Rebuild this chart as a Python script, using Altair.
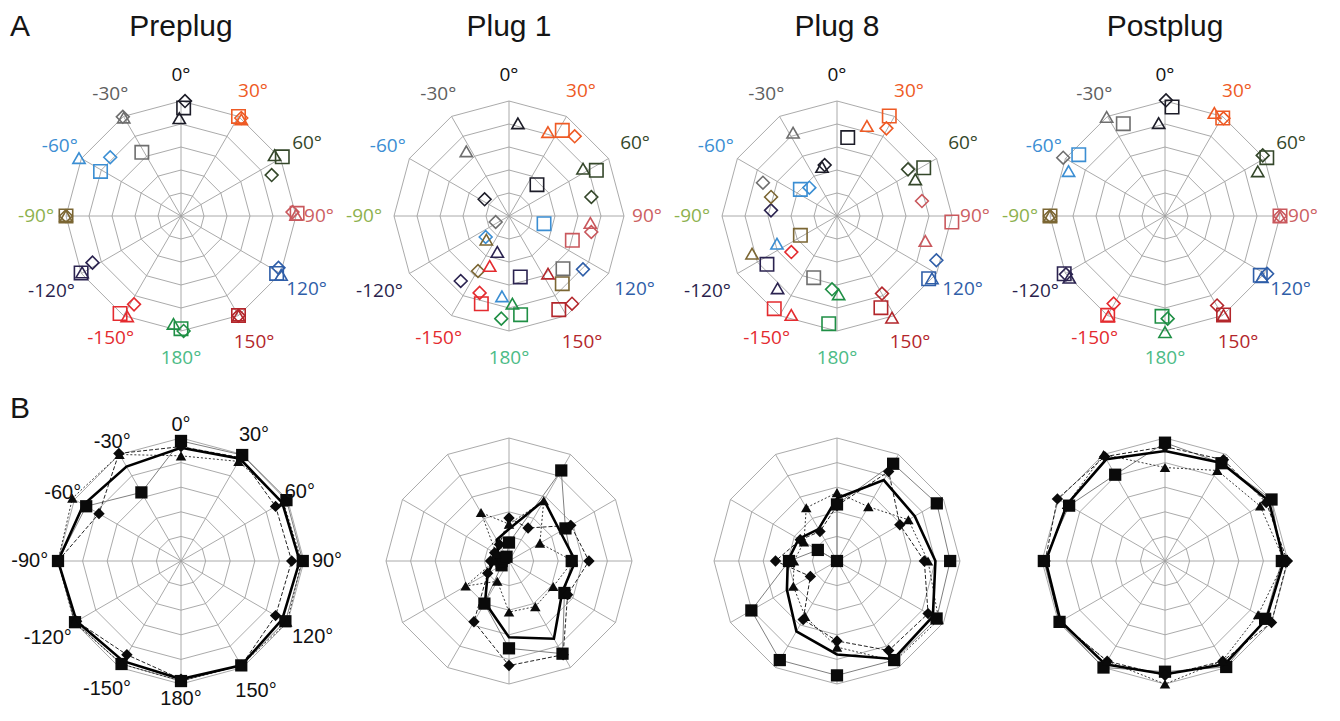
import altair as alt
import pandas as pd

# ---------------------------------------------------------------- data
PANELS = ["Preplug", "Plug 1", "Plug 8", "Postplug"]
DIRECTIONS = [0, 30, 60, 90, 120, 150, 180, -150, -120, -90, -60, -30]
DIR_LABELS = [f"{d}°" for d in DIRECTIONS]
SHAPES = ["square", "diamond", "triangle"]
RINGS = [0.2, 0.4, 0.6, 0.8, 1.0]

MARKER_COLORS = ["#1c1c28", "#ee5a24", "#34472a", "#c9585d", "#2f5ea8", "#b3262b",
                 "#1f8f45", "#e42b2f", "#2b2350", "#7b6633", "#3b8ed3", "#6e6e6e"]
LABEL_COLORS = ["#111111", "#ee5a24", "#34472a", "#cc6062", "#2f5ea8", "#b3262b",
                "#4cbb86", "#e42b2f", "#2a1f4d", "#8db14e", "#3b8ed3", "#5e5e5e"]

# Row A: (perceived angle in deg, radius) per target direction, order = DIRECTIONS
PREPLUG_SQUARE = [(1.4, .94), (30, 1.0), (59.7, 1.02), (88.7, 1.01), (121, .97), (150, 1.0),
                  (180, .98), (-148, 1.0), (-119.7, 1.0), (-90, 1.0), (-61, .80), (-31.6, .65)]
PREPLUG_DIAMOND = [(2, 1.0), (31.6, 1.0), (65.7, .865), (88, .97), (118, .96), (150, 1.0),
                   (178.7, 1.0), (-152, .87), (-117.8, .87), (-90, 1.0), (-50.3, .80), (-30.4, 1.0)]
PREPLUG_TRIANGLE = [(-1, .85), (32, .99), (57, .97), (89.5, 1.0), (120.5, 1.01), (150, 1.0),
                    (184, .94), (-151.8, .99), (-119.7, .99), (-90, 1.0), (-60.4, 1.02), (-30.2, .99)]

PLUG1_SQUARE = [(41.8, .365), (31.9, .877), (62.4, .857), (111, .59), None, (152, .922),
                (173.3, .864), (-162.5, .80), (169.5, .539), (141.8, .749), (102.4, .312), (134.3, .656)]
PLUG1_DIAMOND = [(-55.6, .257), (39.5, .898), (77, .735), (101, .729), (125.8, .793), (144.3, .939),
                 (-175.7, .895), (-159.1, .716), (-143.4, .704), (-150.6, .549), (-132, .273), (-114.2, .127)]
PLUG1_TRIANGLE = [(5.5, .81), (24.9, .805), (57.4, .764), (94.9, .71), None, (145.9, .605),
                  (177.8, .763), (-158.9, .466), (-162, .329), (-136.2, .285), (-175, .701), (-33.4, .674)]

PLUG8_SQUARE = [(7.8, .688), (27.6, .981), (60.9, .863), (93, 1.0), (124.4, .966), (154.4, .884),
                (-175.6, .939), (-145.9, .973), (-124.6, .74), (-117.8, .36), (-54, .394), (-159.3, .573)]
PLUG8_DIAMOND = [(-13.6, .456), (29.4, .875), (56.7, .739), (80, .75), (114, .946), (149.9, .78),
                 (-176.1, .639), (-128.3, .506), (-85.1, .576), (-73.9, .597), (-44.3, .344), (-65.8, .706)]
PLUG8_TRIANGLE = [(-17, .446), (18.4, .825), (64.9, .752), (105.8, .798), (123.3, .988), (151.6, 1.005),
                  (178.8, .681), (-155.2, .948), (-140.6, .814), (-113.9, .808), (-114.8, .575), (-27.8, .819)]

POSTPLUG_SQUARE = [(3.7, .95), (30.5, .989), (60.2, 1.02), (90, 1.0), (121.9, .976), (149.4, 1.0),
                   (-178.3, .873), (-150, .997), (-119.8, 1.01), (-90, 1.0), (-54.6, .92), (-24.3, .881)]
POSTPLUG_DIAMOND = [(0.5, 1.006), (30.9, .99), (58.2, 1.0), (90, 1.0), (119.5, 1.02), (149.8, .90),
                    (178.5, .893), (-149.6, .883), (-120.5, 1.0), (-90, 1.0), None, (-60.2, 1.02)]
POSTPLUG_TRIANGLE = [(-3.9, .81), (25.6, .993), (64.3, .895), (90.5, 1.0), (122.2, .996), (149.4, 1.0),
                     (180, 1.01), (-150.5, 1.0), (-122.8, .99), (-90, 1.0), (-65, .925), (-30.5, 1.0)]

# Row B: response radius per direction, order = DIRECTIONS
B_PREPLUG_SQUARE = [.976, .995, .99, .99, .98, .98, .976, .967, .995, 1.0, .89, .644]
B_PREPLUG_DIAMOND = [.93, .97, .888, .90, .888, .98, .96, .88, .98, 1.0, .77, 1.01]
B_PREPLUG_TRIANGLE = [.855, .935, .96, .98, .997, .98, .976, .967, 1.0, 1.0, 1.02, 1.0]
B_PREPLUG_MEAN = [.92, .96, .95, .965, .95, .98, .96, .94, .98, 1.0, .916, .886]

B_PLUG1_SQUARE = [.15, .85, .53, .51, .52, .87, .71, .40, .07, .06, .05, .04]
B_PLUG1_DIAMOND = [.35, .31, .58, .65, .55, .88, .85, .57, .20, .15, .135, .155]
B_PLUG1_TRIANGLE = [.30, .565, .29, .52, .415, .428, .415, .19, .407, .12, .12, .455]
B_PLUG1_MEAN = [.26, .57, .48, .54, .50, .73, .62, .39, .20, .12, .10, .20]

B_PLUG8_SQUARE = [.46, .913, .937, .92, .935, .93, .93, .93, .804, .39, .18, 0.0]
B_PLUG8_DIAMOND = [.45, .84, .59, .71, .855, .84, .65, .55, .25, .50, .345, .277]
B_PLUG8_TRIANGLE = [.556, .51, .67, .74, .955, .94, .70, .52, .41, .35, .31, .50]
B_PLUG8_MEAN = [.51, .76, .73, .80, .90, .92, .76, .66, .47, .40, .36, .30]

B_POSTPLUG_SQUARE = [.962, .918, 1.0, .95, .94, .995, .90, 1.0, .99, .985, .90, .81]
B_POSTPLUG_DIAMOND = [.93, .95, .95, .995, 1.0, .94, .93, .94, .99, .975, 1.01, .98]
B_POSTPLUG_TRIANGLE = [.76, .85, .893, .97, .874, .935, 1.0, .94, .99, .975, .92, 1.0]
B_POSTPLUG_MEAN = [.894, .92, .975, .967, .95, .97, .92, .97, .98, .97, .92, .955]

A_SERIES = {
    "Preplug": (PREPLUG_SQUARE, PREPLUG_DIAMOND, PREPLUG_TRIANGLE),
    "Plug 1": (PLUG1_SQUARE, PLUG1_DIAMOND, PLUG1_TRIANGLE),
    "Plug 8": (PLUG8_SQUARE, PLUG8_DIAMOND, PLUG8_TRIANGLE),
    "Postplug": (POSTPLUG_SQUARE, POSTPLUG_DIAMOND, POSTPLUG_TRIANGLE),
}
B_SERIES = {
    "Preplug": (B_PREPLUG_SQUARE, B_PREPLUG_DIAMOND, B_PREPLUG_TRIANGLE, B_PREPLUG_MEAN),
    "Plug 1": (B_PLUG1_SQUARE, B_PLUG1_DIAMOND, B_PLUG1_TRIANGLE, B_PLUG1_MEAN),
    "Plug 8": (B_PLUG8_SQUARE, B_PLUG8_DIAMOND, B_PLUG8_TRIANGLE, B_PLUG8_MEAN),
    "Postplug": (B_POSTPLUG_SQUARE, B_POSTPLUG_DIAMOND, B_POSTPLUG_TRIANGLE, B_POSTPLUG_MEAN),
}

# ---------------------------------------------------------------- layout / style
PANEL_W = 328
R_A, R_B = 115.0, 123.0          # px per unit radius
H_A, CY_A = 378, 206             # panel height, centre offset from panel top
H_B, CY_B = 323, 173
XH_A, XH_B = PANEL_W / 2 / R_A, PANEL_W / 2 / R_B
YDOM_A = [-(H_A - CY_A) / R_A, CY_A / R_A]
YDOM_B = [-(H_B - CY_B) / R_B, CY_B / R_B]
# label distance from centre (in ring units), per direction label
LABEL_POS_A = [1.226, 1.252, 1.266, 1.20, 1.261, 1.27, 1.235, 1.223, 1.30, 1.26, 1.217, 1.23]
LABEL_POS_B = [1.106, 1.187, 1.115, 1.187, 1.236, 1.22, 1.12, 1.203, 1.25, 1.23, 1.11, 1.118]
GRID_COLOR = "#a0a0a0"

XPOS = "datum.r * sin(datum.ang * PI / 180)"
YPOS = "datum.r * cos(datum.ang * PI / 180)"


def xy(xh, ydom, xf="x", yf="y"):
    sx = alt.Scale(domain=[-xh, xh], nice=False, zero=False)
    sy = alt.Scale(domain=ydom, nice=False, zero=False)
    return (alt.X(f"{xf}:Q", scale=sx, axis=None), alt.Y(f"{yf}:Q", scale=sy, axis=None))


ring_df = pd.DataFrame([{"ring": rr, "k": k, "ang": k * 30, "r": rr}
                        for rr in RINGS for k in range(12)])
spoke_df = pd.DataFrame({"ang": [k * 30 for k in range(12)], "r": [1.0] * 12})


def grid(xh, ydom):
    X, Y = xy(xh, ydom)
    X0, Y0 = xy(xh, ydom, "x0", "y0")
    rings = alt.Chart(ring_df).mark_line(
        interpolate="linear-closed", color=GRID_COLOR, strokeWidth=0.9
    ).transform_calculate(x=XPOS, y=YPOS).encode(
        x=X, y=Y, detail="ring:N", order="k:Q")
    spokes = alt.Chart(spoke_df).mark_rule(color=GRID_COLOR, strokeWidth=0.9).transform_calculate(
        x=XPOS, y=YPOS, x0="0", y0="0").encode(x=X0, y=Y0, x2="x:Q", y2="y:Q")
    return [rings, spokes]


a_rows = []
for panel, arrays in A_SERIES.items():
    for shape, arr in zip(SHAPES, arrays):
        for lab, v in zip(DIR_LABELS, arr):
            if v is None:
                continue
            a_rows.append({"panel": panel, "shape": shape, "dir": lab, "ang": v[0], "r": v[1]})
a_df = pd.DataFrame(a_rows)

b_rows = []
for panel, arrays in B_SERIES.items():
    for series, arr in zip(SHAPES + ["mean"], arrays):
        for i, (d, v) in enumerate(zip(DIRECTIONS, arr)):
            b_rows.append({"panel": panel, "series": series, "idx": i, "ang": d, "r": v})
b_df = pd.DataFrame(b_rows)

labA_df = pd.DataFrame({"label": DIR_LABELS, "ang": DIRECTIONS, "r": LABEL_POS_A,
                        "col": LABEL_COLORS})
labB_df = pd.DataFrame({"label": DIR_LABELS, "ang": DIRECTIONS, "r": LABEL_POS_B})


def text_at(t, x, y, size, align="center"):
    return alt.Chart(pd.DataFrame({"t": [t]})).mark_text(
        align=align, baseline="alphabetic", fontSize=size, font="Liberation Sans",
        color="#151515").encode(x=alt.value(x), y=alt.value(y), text="t:N")


def panel_a(i, name):
    X, Y = xy(XH_A, YDOM_A)
    layers = grid(XH_A, YDOM_A)
    layers.append(alt.Chart(labA_df).mark_text(font="Open Sans", fontSize=19).transform_calculate(
        x=XPOS, y=YPOS).encode(x=X, y=Y, text="label:N", color=alt.Color("col:N", scale=None)))
    layers.append(alt.Chart(a_df[a_df.panel == name]).mark_point(
        filled=False, strokeWidth=1.6, opacity=1).transform_calculate(x=XPOS, y=YPOS).encode(
        x=X, y=Y,
        shape=alt.Shape("shape:N", scale=alt.Scale(domain=SHAPES, range=["square", "diamond", "triangle-up"]), legend=None),
        size=alt.Size("shape:N", scale=alt.Scale(domain=SHAPES, range=[180, 150, 210]), legend=None),
        color=alt.Color("dir:N", scale=alt.Scale(domain=DIR_LABELS, range=MARKER_COLORS), legend=None)))
    layers.append(text_at(name, PANEL_W / 2, 26, 30))
    if i == 0:
        layers.append(text_at("A", -7, 26, 30, "left"))
    return alt.layer(*layers).properties(width=PANEL_W, height=H_A)


LINE_STYLE = {
    "square": dict(color="#808080", strokeWidth=1.0),
    "diamond": dict(color="#222222", strokeWidth=1.0, strokeDash=[4, 2]),
    "triangle": dict(color="#222222", strokeWidth=0.9, strokeDash=[2, 2]),
    "mean": dict(color="#000000", strokeWidth=2.6),
}


def panel_b(i, name):
    X, Y = xy(XH_B, YDOM_B)
    layers = grid(XH_B, YDOM_B)
    sub = b_df[b_df.panel == name]
    for s in SHAPES + ["mean"]:
        layers.append(alt.Chart(sub[sub.series == s]).mark_line(
            interpolate="linear-closed", **LINE_STYLE[s]).transform_calculate(
            x=XPOS, y=YPOS).encode(x=X, y=Y, order="idx:Q"))
    layers.append(alt.Chart(sub[sub.series != "mean"]).mark_point(
        filled=True, color="#0a0a0a", opacity=1).transform_calculate(x=XPOS, y=YPOS).encode(
        x=X, y=Y,
        shape=alt.Shape("series:N", scale=alt.Scale(domain=SHAPES, range=["square", "diamond", "triangle-up"]), legend=None),
        size=alt.Size("series:N", scale=alt.Scale(domain=SHAPES, range=[150, 110, 130]), legend=None)))
    if i == 0:
        layers.append(alt.Chart(labB_df).mark_text(
            font="Liberation Sans", fontSize=20, color="#111").transform_calculate(
            x=XPOS, y=YPOS).encode(x=X, y=Y, text="label:N"))
        layers.append(text_at("B", -7, 30, 30, "left"))
    return alt.layer(*layers).properties(width=PANEL_W, height=H_B)


row_a = alt.hconcat(*[panel_a(i, n) for i, n in enumerate(PANELS)], spacing=0, bounds="flush")
row_b = alt.hconcat(*[panel_b(i, n) for i, n in enumerate(PANELS)], spacing=0, bounds="flush")

chart = alt.vconcat(row_a, row_b, spacing=0).resolve_scale(
    color="independent", shape="independent", size="independent"
).properties(
    padding={"left": 2, "top": 2, "right": 0, "bottom": 0}, background="white"
).configure_view(strokeWidth=0, stroke="transparent")

chart.save("out.html", embed_options={"renderer": "svg", "actions": False})
